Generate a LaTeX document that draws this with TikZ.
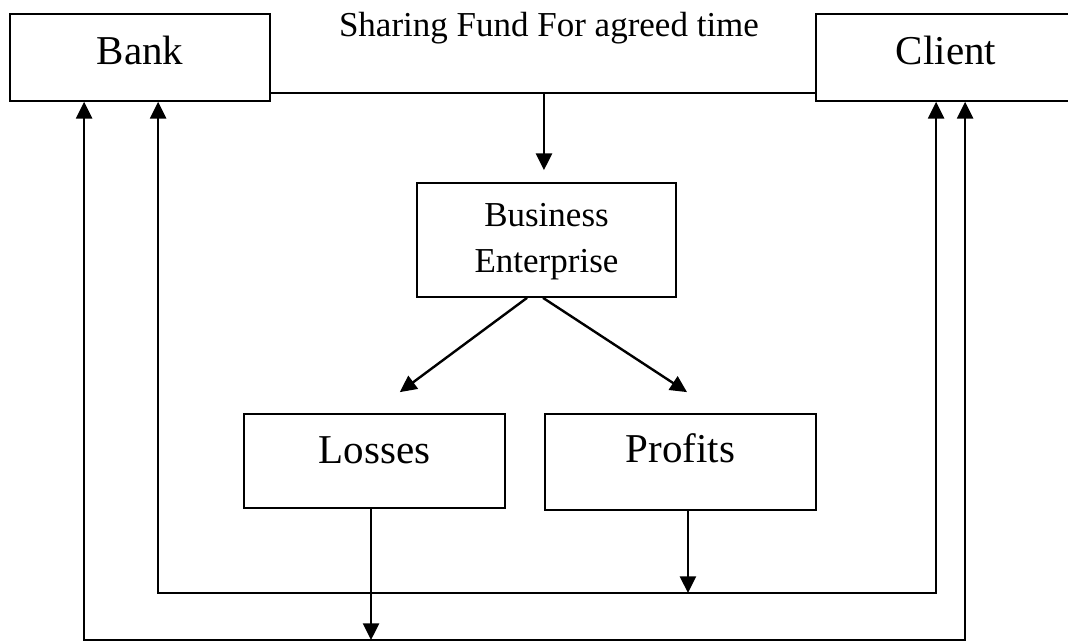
\documentclass[tikz,border=0pt]{standalone}
\usepackage{fontspec}
\setmainfont{Liberation Serif}
\usetikzlibrary{arrows.meta}
\begin{document}
\begin{tikzpicture}[x=0.75pt,y=-0.75pt,
  box/.style={draw, line width=1.3pt, rectangle, inner sep=0pt},
  bigtext/.style={font=\fontsize{30.75pt}{36pt}\selectfont},
  smalltext/.style={font=\fontsize{26.25pt}{34.5pt}\selectfont},
  link/.style={line width=1.8pt},
  arrow/.style={link, -{Triangle[length=12.5pt,width=12pt]}},
  twoway/.style={link, {Triangle[length=12.5pt,width=12pt]}-{Triangle[length=12.5pt,width=12pt]}}]
\clip (0,0) rectangle (1068,641);

% parties
\node[box, bigtext, minimum width=195pt, minimum height=65.25pt,
      text height=16pt, text depth=4.75pt] (bank) at (140,57.5) {Bank};
\node[box, bigtext, minimum width=195pt, minimum height=65.25pt,
      text height=16pt, text depth=4.75pt] (client) at (946,57.5) {Client};
\node[smalltext, anchor=base] (title) at (549,37) {Sharing Fund For agreed time};

% venture and its outcomes
\node[box, smalltext, align=center, minimum width=194.25pt, minimum height=85.5pt,
      text height=55pt, text depth=5.7pt] (biz) at (546.5,240) {Business\\Enterprise};
\node[box, bigtext, minimum width=195.75pt, minimum height=70.5pt,
      text height=10pt, text depth=5.5pt] (loss) at (374.5,461) {Losses};
\node[box, bigtext, minimum width=203.25pt, minimum height=72pt,
      text height=8pt, text depth=6.5pt] (prof) at (680.5,462) {Profits};

% funds joined and put into the enterprise
\draw[link] ([yshift=6.75pt]bank.south east) coordinate (fundL)
   -- ([yshift=6.75pt]client.south west) coordinate (fundR);
\draw[arrow] ([xshift=-1.9pt]fundL -| biz.north) -- ([xshift=-1.9pt,yshift=9pt]biz.north);

% enterprise outcomes
\draw[arrow] ([xshift=-14.6pt]biz.south) -- ([xshift=19pt,yshift=15.75pt]loss.north);
\draw[arrow] ([xshift=-2.6pt]biz.south) -- ([xshift=4.9pt,yshift=15.75pt]prof.north);

% losses returned to both parties (outer loop)
\coordinate (outerMid) at ([xshift=-2.6pt]loss.south |- 0,640);
\draw[twoway] ([xshift=56.25pt]bank.south west) |- (outerMid) -| ([xshift=112.5pt]client.south west);
\draw[arrow] ([xshift=-2.6pt]loss.south) -- (outerMid);

% profits returned to both parties (inner loop)
\coordinate (innerMid) at ([xshift=5.6pt]prof.south |- 0,593);
\draw[twoway] ([xshift=111.75pt]bank.south west) |- (innerMid) -| ([xshift=90.75pt]client.south west);
\draw[arrow] ([xshift=5.6pt]prof.south) -- (innerMid);
\end{tikzpicture}
\end{document}
